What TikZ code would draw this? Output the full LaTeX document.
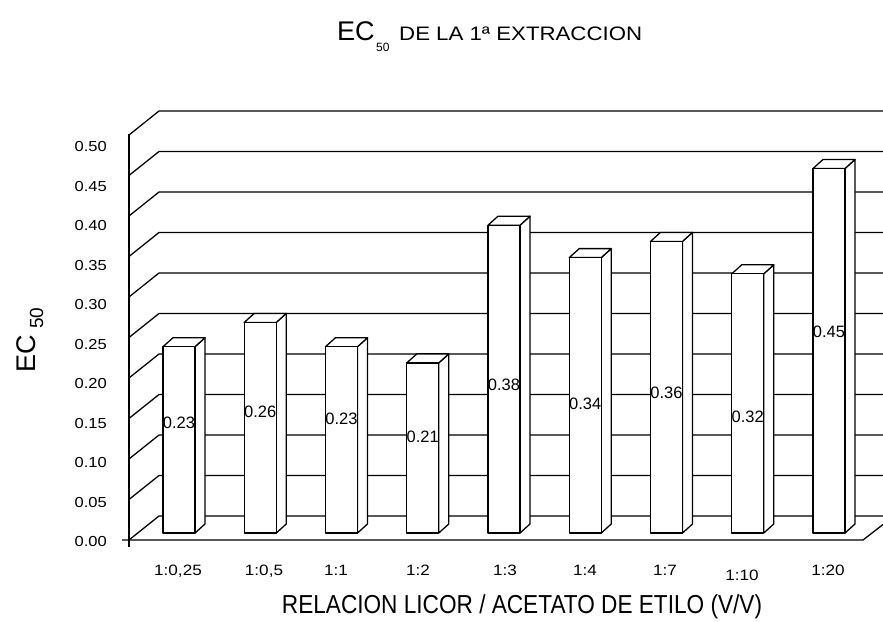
\documentclass[tikz,border=0pt]{standalone}
\usepackage{fontspec}
\setmainfont{Liberation Sans}
\newfontfamily\widefont[FakeStretch=1.14]{Liberation Sans}
\newfontfamily\narrowfont[FakeStretch=0.87]{Liberation Sans}
\begin{document}
\begin{tikzpicture}[x=1pt,y=-1pt,
  gridline/.style={draw=black,line width=1.3pt,line join=round},
  barface/.style={draw=black,line width=1.3pt,fill=white,line join=round},
  ylab/.style={anchor=east,inner sep=0pt,font={\widefont\fontsize{14.5}{14.5}\selectfont}},
  clab/.style={anchor=base,inner sep=0pt,font={\widefont\fontsize{15}{15}\selectfont}},
  vlab/.style={inner sep=0pt,font={\fontsize{16.5}{16.5}\selectfont}}]
\useasboundingbox[fill=white] (0,0) rectangle (883,621);

% title
\node[anchor=base west,inner sep=0pt,font={\fontsize{27}{27}\selectfont}] (tEC) at (337,40) {EC};
\node[anchor=base west,inner sep=0pt,font={\fontsize{12}{12}\selectfont}] (tsub) at (376,51) {50};
\node[anchor=base west,inner sep=0pt,font={\widefont\fontsize{19.5}{19.5}\selectfont}] (trest) at (399,40) {DE LA 1ª EXTRACCION};

% y axis title
\node[anchor=base west,inner sep=0pt,rotate=90,font={\fontsize{27}{27}\selectfont}] (yEC) at (35,373) {EC};
\node[anchor=base west,inner sep=0pt,rotate=90,font={\fontsize{19}{19}\selectfont}] (ysub) at (43,329) {50};

% x axis title
\node[anchor=base,inner sep=0pt,font={\narrowfont\fontsize{26}{26}\selectfont}] (xtitle) at (522,613) {RELACION LICOR / ACETATO DE ETILO (V/V)};

% grid: back wall lines and left wall diagonals
\foreach \k in {0,...,10}{
  \pgfmathsetmacro\yb{516-40.5*\k}
  \draw[gridline] (129,\yb+24) -- (159,\yb) -- (883,\yb);
}
% y axis and floor front edge
\draw[gridline] (129,134) -- (129,547);
\draw[gridline] (122,540) -- (863,540) -- (883,524.5);

% y labels
\foreach \k/\t in {0/0.00,1/0.05,2/0.10,3/0.15,4/0.20,5/0.25,6/0.30,7/0.35,8/0.40,9/0.45,10/0.50}{
  \node[ylab] (y\k) at (107,542-39.5*\k) {\t};
}

% bars
\foreach \L/\v/\ly/\lab [count=\i] in {163/0.23/423/0.23, 244.25/0.26/412/0.26, 325.5/0.23/419/0.23,
   406.75/0.21/437/0.21, 488/0.38/385/0.38, 569.25/0.34/404/0.34, 650.5/0.36/393/0.36,
   731.75/0.32/417/0.32, 813/0.45/332/0.45}{
  \pgfmathsetmacro\tp{533-810*\v}
  \draw[barface] (\L+32,533) -- (\L+42,524) -- (\L+42,\tp-9) -- (\L+32,\tp) -- cycle;
  \draw[barface] (\L,\tp) -- (\L+10,\tp-9) -- (\L+42,\tp-9) -- (\L+32,\tp) -- cycle;
  \draw[barface] (\L,533) rectangle (\L+32,\tp);
  \node[vlab] (v\i) at (\L+16,\ly) {\lab};
}

% category labels
\foreach \x/\y/\t [count=\i] in {178/575/{1:0,25}, 264/575/{1:0,5}, 336/575/{1:1}, 418/575/{1:2},
   505/575/{1:3}, 585/575/{1:4}, 665/575/{1:7}, 742/580/{1:10}, 828/575/{1:20}}{
  \node[clab] (c\i) at (\x,\y) {\t};
}
\end{tikzpicture}
\end{document}
